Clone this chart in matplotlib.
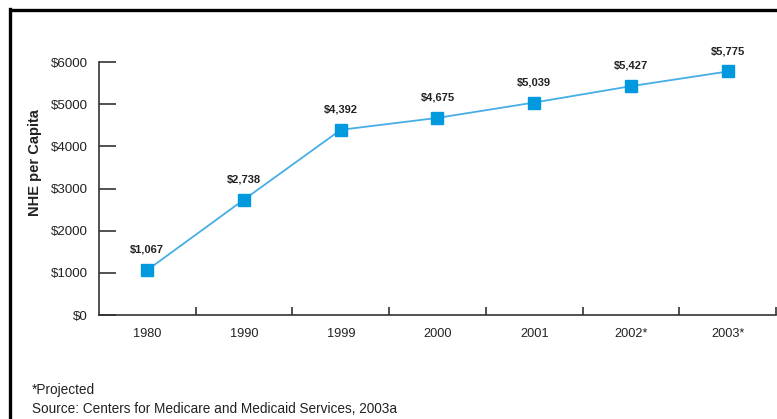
import matplotlib.pyplot as plt
from matplotlib.lines import Line2D
import numpy as np

plt.rcParams['font.family'] = ['Liberation Sans', 'DejaVu Sans']

# Data
years = ['1980', '1990', '1999', '2000', '2001', '2002*', '2003*']
nhe_per_capita = [1067, 2738, 4392, 4675, 5039, 5427, 5775]
y_ticks = [0, 1000, 2000, 3000, 4000, 5000, 6000]
y_tick_labels = ['$0', '$1000', '$2000', '$3000', '$4000', '$5000', '$6000']

line_color = '#45aee6'
marker_color = '#0099dd'
axis_color = '#333333'

fig = plt.figure(figsize=(7.77, 4.19), dpi=100)
ax = fig.add_axes([0.1274, 0.2482, 0.8713, 0.6038])

x = np.arange(len(years))
ax.plot(x, nhe_per_capita, color=line_color, linewidth=1.3, zorder=2)
ax.plot(x, nhe_per_capita, linestyle='none', marker='s', markersize=8.5,
        markerfacecolor=marker_color, markeredgecolor=marker_color, zorder=3)

# value labels above each point
for xi, v in zip(x, nhe_per_capita):
    ax.annotate(f"${v:,}", (xi, v), xytext=(0, 11), textcoords='offset points',
                ha='center', va='bottom', fontsize=8, fontweight='bold',
                color='#222222')

ax.set_xlim(-0.5, len(years) - 0.5)
ax.set_ylim(0, 6000)

# category labels centred, tick marks on the boundaries
ax.set_xticks(x)
ax.set_xticklabels(years, fontsize=9.2, color='#222222')
ax.tick_params(axis='x', which='major', length=0, pad=9)
ax.set_xticks(np.arange(0.5, len(years)), minor=True)
ax.tick_params(axis='x', which='minor', direction='in', length=6, width=1.2,
               color=axis_color)

ax.set_yticks(y_ticks)
ax.set_yticklabels(y_tick_labels, fontsize=9.6, color='#222222')
ax.tick_params(axis='y', direction='in', length=12, width=1.2,
               color=axis_color, pad=8)

for side in ['top', 'right']:
    ax.spines[side].set_visible(False)
for side in ['left', 'bottom']:
    ax.spines[side].set_color(axis_color)
    ax.spines[side].set_linewidth(1.2)

fig.text(35 / 777, 1 - 163 / 419, 'NHE per Capita', rotation=90,
         ha='center', va='center', fontsize=10.5, fontweight='bold',
         color='#222222')

# footnotes
fig.text(32 / 777, 1 - 390 / 419, '*Projected', ha='left', va='center',
         fontsize=9.8, color='#222222')
fig.text(32 / 777, 1 - 409 / 419,
         'Source: Centers for Medicare and Medicaid Services, 2003a',
         ha='left', va='center', fontsize=9.8, color='#222222')

# black frame along the top and left edges
fig.add_artist(Line2D([10 / 777, 1], [1 - 10.5 / 419, 1 - 10.5 / 419],
                      transform=fig.transFigure, color='black', linewidth=2.4,
                      solid_capstyle='butt'))
fig.add_artist(Line2D([10 / 777, 10 / 777], [0, 1 - 9.5 / 419],
                      transform=fig.transFigure, color='black', linewidth=2.4,
                      solid_capstyle='projecting'))

fig.savefig('out.png', dpi=100)
